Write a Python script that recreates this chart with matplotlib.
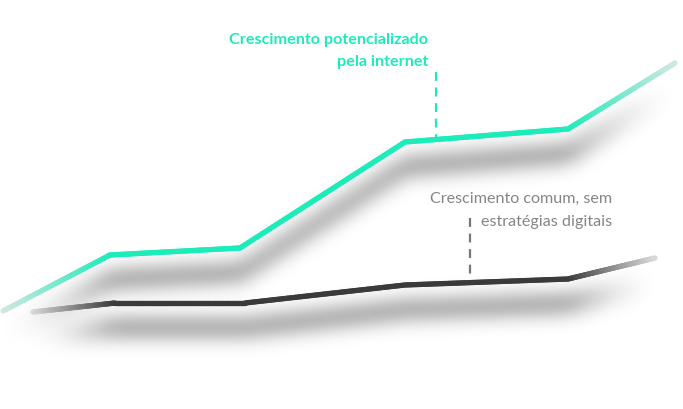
import numpy as np
import matplotlib
matplotlib.use("Agg")
import matplotlib.pyplot as plt
from matplotlib.collections import LineCollection
from matplotlib.colors import to_rgb

# Data (arbitrary units, x = time, y = growth)
green_x = [3, 110, 240, 405, 568, 675]
green_y = [98, 154, 161, 267, 280, 346]
gray_x = [33, 115, 245, 405, 568, 655]
gray_y = [97, 106, 106, 124, 130, 151]

green_label = ["Crescimento potencializado", "pela internet"]
gray_label = ["Crescimento comum, sem", "estratégias digitais"]

GREEN = "#1eebba"
DARK = "#3a3a3a"

W, H = 683, 409
fig = plt.figure(figsize=(W / 100, H / 100), dpi=100)
ax = fig.add_axes([0, 0, 1, 1])
ax.set_xlim(0, W)
ax.set_ylim(0, H)
ax.axis("off")


def dense(xs, ys, n=60):
    px, py, seg = [], [], []
    for i in range(len(xs) - 1):
        t = np.linspace(0, 1, n, endpoint=False)
        px.extend(xs[i] + (xs[i + 1] - xs[i]) * t)
        py.extend(ys[i] + (ys[i + 1] - ys[i]) * t)
        seg.extend([i + tt for tt in t])
    px.append(xs[-1]); py.append(ys[-1]); seg.append(len(xs) - 1)
    return np.array(px), np.array(py), np.array(seg)


def fade(s, last, lo):
    f = np.ones_like(s)
    f = np.where(s < 1, lo + (1 - lo) * s, f)
    f = np.where(s > last - 1, lo + (1 - lo) * (last - s), f)
    return f


def gauss_blur(img, sigma):
    r = int(3 * sigma)
    k = np.exp(-0.5 * (np.arange(-r, r + 1) / sigma) ** 2)
    k /= k.sum()
    img = np.apply_along_axis(lambda v: np.convolve(v, k, mode="same"), 0, img)
    img = np.apply_along_axis(lambda v: np.convolve(v, k, mode="same"), 1, img)
    return img


# soft drop shadow, computed from the series through the axes transform
shadow = np.zeros((H, W))
for xs, ys in [(green_x, green_y), (gray_x, gray_y)]:
    px, py, s = dense(xs, ys, n=300)
    pix = ax.transData.transform(np.column_stack([px, py]))
    f = fade(s, len(xs) - 1, 0.0) ** 1.5
    for (X, Y), v in zip(pix, f):
        col = int(round(X)); row = int(round(H - Y)) + 24
        if 0 <= col < W:
            for dr in range(-7, 8):
                rr = row + dr
                if 0 <= rr < H:
                    shadow[rr, col] = max(shadow[rr, col], v)
shadow = gauss_blur(shadow, 10)
shadow = np.clip(shadow / shadow.max(), 0, 1) * 0.28
rgba = np.zeros((H, W, 4))
rgba[..., 3] = shadow
ax.imshow(rgba, extent=(0, W, 0, H), origin="upper", aspect="auto",
          interpolation="bilinear", zorder=1)
ax.set_xlim(0, W)
ax.set_ylim(0, H)


def draw_gradient(xs, ys, color, fade_color):
    px, py, s = dense(xs, ys)
    f = fade(s, len(xs) - 1, 0.1)
    c1 = np.array(to_rgb(color)); c0 = np.array(to_rgb(fade_color))
    cols = [tuple(c0 + (c1 - c0) * v) for v in f[:-1]]
    pts = np.column_stack([px, py]).reshape(-1, 1, 2)
    segs = np.concatenate([pts[:-1], pts[1:]], axis=1)
    lc = LineCollection(segs, colors=cols, linewidths=3.8, capstyle="round",
                        joinstyle="round", antialiased=True, zorder=3)
    ax.add_collection(lc)


draw_gradient(green_x, green_y, GREEN, "#e6e6e6")
draw_gradient(gray_x, gray_y, DARK, "#ebebeb")

# annotation lines
ax.plot([436, 436], [337, 270], color=GREEN, lw=1.6, ls=(0, (4, 3)), zorder=2)
ax.plot([470, 470], [191, 126], color="#777777", lw=1.6, ls=(0, (4, 3)), zorder=2)

ax.text(428, 369, green_label[0], color=GREEN, fontsize=11.6, fontweight="bold",
        family="Lato", ha="right", va="center", zorder=4)
ax.text(428, 347, green_label[1], color=GREEN, fontsize=11.6, fontweight="bold",
        family="Lato", ha="right", va="center", zorder=4)
ax.text(612, 210, gray_label[0], color="#858585", fontsize=11.6, fontweight="normal",
        family="Lato", ha="right", va="center", zorder=4)
ax.text(612, 187, gray_label[1], color="#858585", fontsize=11.6, fontweight="normal",
        family="Lato", ha="right", va="center", zorder=4)

fig.savefig("out.png", dpi=100, facecolor="white")
